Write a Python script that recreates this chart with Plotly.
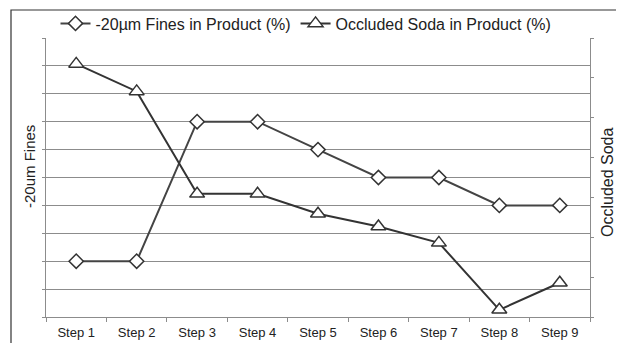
import plotly.graph_objects as go

steps = ["Step 1", "Step 2", "Step 3", "Step 4", "Step 5", "Step 6", "Step 7", "Step 8", "Step 9"]
fines = [2, 2, 7, 7, 6, 5, 5, 4, 4]
soda = [6.35, 5.66, 3.09, 3.09, 2.59, 2.27, 1.86, 0.18, 0.86]

line_col = "#333333"
grid_col = "#8c8c8c"
txt_col = "#222222"
fam = "Liberation Sans, Arial, sans-serif"

# figure is drawn at an 8px body offset in the page, so size is reduced accordingly
W, H = 616, 335
L, R, T, B = 38, 34, 30, 26
PW, PH = W - L - R, H - T - B

fig = go.Figure()
fig.add_trace(go.Scatter(
    x=steps, y=fines, name="-20µm Fines in Product (%)", mode="lines+markers",
    line=dict(color="#444444", width=2),
    marker=dict(symbol="diamond", size=11, color="white", line=dict(color="#333333", width=1.5)),
    yaxis="y"))
fig.add_trace(go.Scatter(
    x=steps, y=soda, name="Occluded Soda in Product (%)", mode="lines+markers",
    line=dict(color=line_col, width=2),
    marker=dict(symbol="triangle-up", size=13, color="white", line=dict(color="#333333", width=1.5)),
    yaxis="y2"))

fig.update_layout(
    width=W, height=H,
    margin=dict(l=L, r=R, t=T, b=B, autoexpand=False),
    paper_bgcolor="white", plot_bgcolor="white",
    font=dict(family=fam, size=12, color=txt_col),
    showlegend=True,
    legend=dict(orientation="h", x=0.5 - 12 / PW, xanchor="center", y=1 + (T - 15.5) / PH, yanchor="middle",
                font=dict(size=16, color=txt_col), itemwidth=30,
                bgcolor="rgba(0,0,0,0)"),
    xaxis=dict(type="category", showgrid=False, showline=True, linecolor=grid_col, linewidth=1,
               ticks="outside", tickson="boundaries", ticklen=4, tickcolor=grid_col,
               tickfont=dict(size=13, color=txt_col), range=[-0.5, 8.5], ticklabelstandoff=3),
    yaxis=dict(range=[0, 10], dtick=1, showticklabels=False, showgrid=True, gridcolor=grid_col,
               gridwidth=1, showline=True, linecolor=grid_col, ticks="outside", ticklen=3,
               tickcolor=grid_col, zeroline=False),
    yaxis2=dict(range=[0, 7], dtick=1, overlaying="y", side="right", showticklabels=False,
                showgrid=False, showline=True, linecolor=grid_col, ticks="outside", ticklen=3,
                tickcolor=grid_col, zeroline=False),
    shapes=[dict(type="rect", xref="paper", yref="paper",
                 x0=(3 - L) / PW, x1=(609 - L) / PW,
                 y0=-0.3, y1=(H - B - 2) / PH,
                 line=dict(color="#333333", width=1.2), fillcolor="rgba(0,0,0,0)", layer="below")],
    annotations=[
        dict(text="-20um Fines", xref="paper", yref="paper", x=(21 - L) / PW, y=(H - B - 159) / PH,
             textangle=-90, showarrow=False, xanchor="center", yanchor="middle",
             font=dict(size=15, color=txt_col)),
        dict(text="Occluded Soda", xref="paper", yref="paper", x=(599 - L) / PW, y=(H - B - 174) / PH,
             textangle=-90, showarrow=False, xanchor="center", yanchor="middle",
             font=dict(size=16, color=txt_col)),
    ],
)

fig.write_html("out.html")
